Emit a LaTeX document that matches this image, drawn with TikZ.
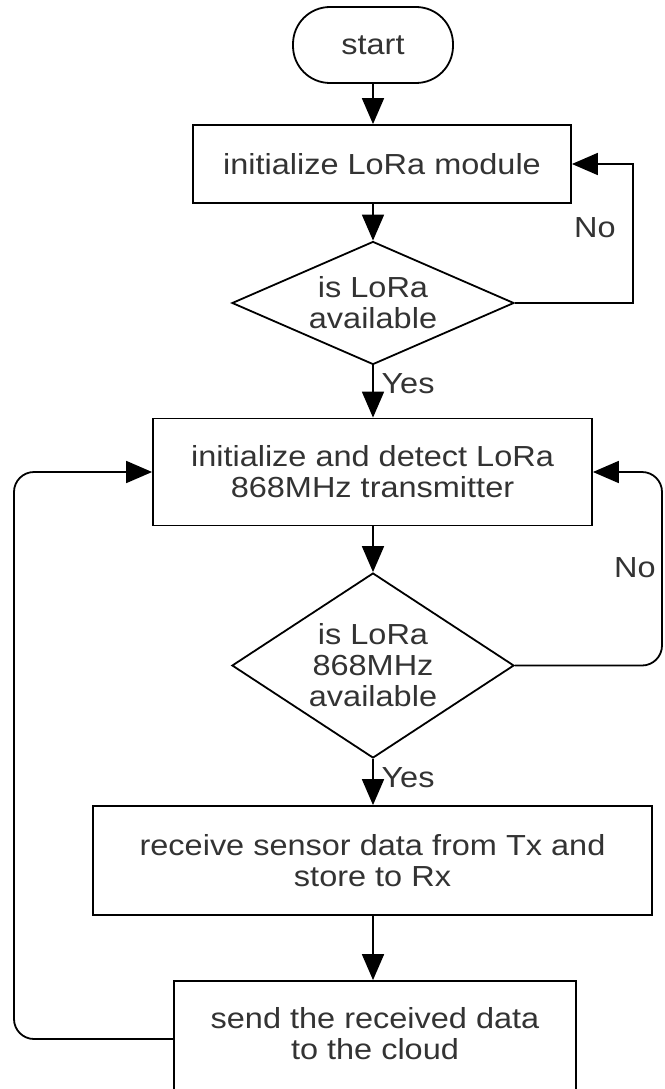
\documentclass[tikz,border=0pt]{standalone}
\usepackage{fontspec}
\setmainfont{Liberation Sans}[FakeStretch=1.12]
\usetikzlibrary{arrows.meta,shapes.geometric}
\begin{document}
\begin{tikzpicture}[x=1pt,y=-1pt,
  every node/.style={text=black!80, font=\fontsize{29}{31}\selectfont},
  box/.style={draw=black, line width=1.8pt, rectangle, inner sep=0pt, align=center},
  dia/.style={draw=black, line width=1.8pt, diamond, inner sep=0pt},
  txt/.style={align=center, inner sep=0pt},
  arr/.style={draw=black, line width=1.8pt, -{Triangle[length=26pt,width=22pt]}},
  ln/.style={draw=black, line width=1.8pt}]
\useasboundingbox (0,0) rectangle (664,1089);
\fill[white] (0,0) rectangle (664,1089);
% nodes
\node[box, rounded corners=37pt, minimum width=160pt, minimum height=76pt] (start) at (373,45) {start};
\node[box, minimum width=378pt, minimum height=78pt] (b1) at (382,164) {initialize LoRa module};
\node[dia, minimum width=282pt, minimum height=123pt] (d1) at (373,303) {};
\node[txt] (t1) at (d1) {is LoRa\\available};
\node[box, minimum width=439pt, minimum height=107pt] (b2) at (372.5,472) {initialize and detect LoRa\\868MHz transmitter};
\node[dia, minimum width=282pt, minimum height=185pt] (d2) at (373,665.5) {};
\node[txt] (t2) at (d2) {is LoRa\\868MHz\\available};
\node[box, minimum width=559pt, minimum height=109pt] (b3) at (372.5,860.5) {receive sensor data from Tx and\\store to Rx};
\node[box, minimum width=402pt, minimum height=116pt, text depth=12pt] (b4) at (375,1039) {send the received data\\to the cloud};
% labels
\node[txt] (yes1) at (408,384) {Yes};
\node[txt] (yes2) at (408,778) {Yes};
\node[txt] (no1) at (595,228) {No};
\node[txt] (no2) at (635,568) {No};
% helper coordinates
\coordinate (r1) at (633,0);
\coordinate (r2) at (662,0);
\coordinate (l1) at (14,0);
% connectors
\draw[arr] (start.south) -- (start.south |- b1.north);
\draw[arr] (d1.north |- b1.south) -- (d1.north);
\draw[arr] (d1.south) -- (d1.south |- b2.north);
\draw[arr] (d2.north |- b2.south) -- (d2.north);
\draw[arr] (d2.south) -- (d2.south |- b3.north);
\draw[arr] (d2.south |- b3.south) -- (d2.south |- b4.north);
\draw[arr] (d1.east) -| (r1 |- b1.east) -- (b1.east);
\draw[arr, rounded corners=20pt] (d2.east) -| (r2 |- b2.east) -- (b2.east);
\draw[arr, rounded corners=20pt] (b4.west) -| (l1 |- b2.west) -- (b2.west);
\end{tikzpicture}
\end{document}
